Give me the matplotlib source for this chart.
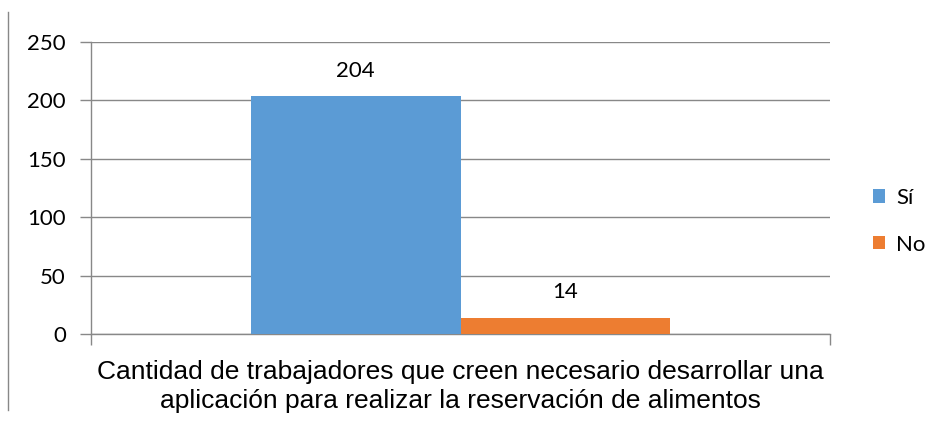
import matplotlib.pyplot as plt
from matplotlib.lines import Line2D

# Datos del gráfico
category = "Cantidad de trabajadores que creen necesario desarrollar una\naplicación para realizar la reservación de alimentos"
series_names = ["Sí", "No"]
series_values = [204, 14]
series_colors = ["#5B9BD5", "#ED7D31"]
y_ticks = [0, 50, 100, 150, 200, 250]

fig = plt.figure(figsize=(9.38, 4.23), dpi=100)
ax = fig.add_axes([91 / 938, 1 - 334 / 423, 739 / 938, 292 / 423])

bar_w = 0.284
offsets = [-bar_w / 2, bar_w / 2]
for name, val, col, off in zip(series_names, series_values, series_colors, offsets):
    ax.bar(off, val, width=bar_w, color=col, label=name, zorder=3)
    ax.text(off, val + 13, str(val), ha="center", va="bottom",
            fontsize=16, family="Lato", color="#000000")

ax.set_xlim(-0.5, 0.5)
ax.set_ylim(0, 250)
ax.set_yticks(y_ticks)
ax.set_yticklabels([str(t) for t in y_ticks], family="Lato", fontsize=16)
ax.yaxis.grid(True, color="#888888", linewidth=1, zorder=0)
ax.set_xticks([-0.5, 0.5])
ax.set_xticklabels(["", ""])
ax.tick_params(axis="y", length=8, width=1, color="#888888", pad=10)
ax.tick_params(axis="x", length=8, width=1, color="#888888")
for s in ["top", "right"]:
    ax.spines[s].set_visible(False)
for s in ["left", "bottom"]:
    ax.spines[s].set_color("#888888")
    ax.spines[s].set_linewidth(1)

# etiqueta de la categoría
ax.text(0.5, -0.09, category, transform=ax.transAxes, ha="center", va="top",
        fontsize=19, family="Liberation Sans", linespacing=1.25)

fig.legend(loc="upper left", bbox_to_anchor=(853 / 938, 1 - 168 / 423),
           frameon=False, prop={"family": "Lato", "size": 16},
           handlelength=0.55, handleheight=0.55, handletextpad=0.5,
           labelspacing=1.2)

# línea vertical a la izquierda
fig.add_artist(Line2D([8 / 938, 8 / 938], [1 - 12 / 423, 1 - 410 / 423],
                      transform=fig.transFigure, color="#888888", linewidth=1))

fig.savefig("out.png", dpi=100)
